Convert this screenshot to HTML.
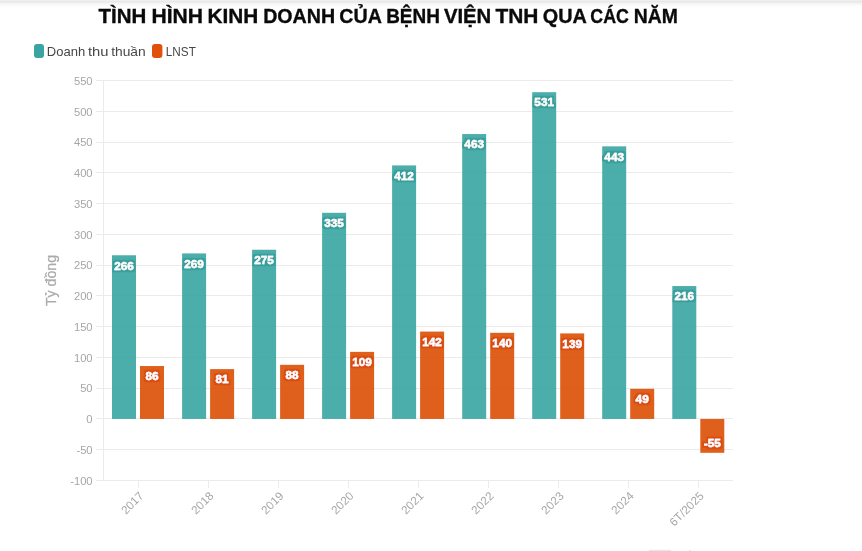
<!DOCTYPE html>
<html lang="vi"><head><meta charset="utf-8"><title>Tình hình kinh doanh của Bệnh viện TNH qua các năm</title>
<style>
html,body{margin:0;padding:0;background:#fff;}
body{width:862px;height:551px;overflow:hidden;position:relative;font-family:"Liberation Sans", sans-serif;}
#shade{position:absolute;left:0;top:0;width:862px;height:8px;background:linear-gradient(to bottom,#f8f8f8 0px,#e7e7e7 1px,#ebebeb 2px,#f1f1f1 3px,#f6f6f6 4px,#fafafa 5px,#fdfdfd 6px,#ffffff 8px);}
svg{position:absolute;left:0;top:0;}
text{font-family:"Liberation Sans", sans-serif;}
.yt{font-size:11.2px;fill:#a6a6a6;text-anchor:end;}
.xt{font-size:11.7px;fill:#a6a6a6;text-anchor:end;}
.lb{font-size:11.2px;font-weight:bold;fill:#fff;text-anchor:middle;stroke:#fff;stroke-width:0.35px;}
.lt{filter:url(#hT);}
.lo{filter:url(#hO);}
.grid line{stroke:#ebebeb;stroke-width:1;shape-rendering:crispEdges;}
.lg{font-size:13.1px;fill:#474747;}
</style></head><body>
<div id="shade"></div>
<svg width="862" height="551" viewBox="0 0 862 551">
<defs>
<filter id="hT" x="-20%" y="-40%" width="140%" height="180%"><feMorphology in="SourceAlpha" operator="dilate" radius="1.7" result="d"/><feGaussianBlur in="d" stdDeviation="0.45" result="b"/><feFlood flood-color="#35a09d"/><feComposite in2="b" operator="in" result="h"/><feMerge><feMergeNode in="h"/><feMergeNode in="SourceGraphic"/></feMerge></filter>
<filter id="hO" x="-20%" y="-40%" width="140%" height="180%"><feMorphology in="SourceAlpha" operator="dilate" radius="1.7" result="d"/><feGaussianBlur in="d" stdDeviation="0.45" result="b"/><feFlood flood-color="#db4e09"/><feComposite in2="b" operator="in" result="h"/><feMerge><feMergeNode in="h"/><feMergeNode in="SourceGraphic"/></feMerge></filter>
</defs>
<text y="22.5" font-size="20.3" font-weight="bold" fill="#0a0a0a" stroke="#0a0a0a" stroke-width="0.35"><tspan x="98.53" textLength="47.74" lengthAdjust="spacingAndGlyphs">TÌNH</tspan> <tspan x="151.40" textLength="51.58" lengthAdjust="spacingAndGlyphs">HÌNH</tspan> <tspan x="207.59" textLength="50.77" lengthAdjust="spacingAndGlyphs">KINH</tspan> <tspan x="263.19" textLength="71.91" lengthAdjust="spacingAndGlyphs">DOANH</tspan> <tspan x="339.32" textLength="41.81" lengthAdjust="spacingAndGlyphs">CỦA</tspan> <tspan x="386.15" textLength="53.67" lengthAdjust="spacingAndGlyphs">BỆNH</tspan> <tspan x="443.88" textLength="47.36" lengthAdjust="spacingAndGlyphs">VIỆN</tspan> <tspan x="495.52" textLength="42.94" lengthAdjust="spacingAndGlyphs">TNH</tspan> <tspan x="542.77" textLength="43.37" lengthAdjust="spacingAndGlyphs">QUA</tspan> <tspan x="590.33" textLength="38.60" lengthAdjust="spacingAndGlyphs">CÁC</tspan> <tspan x="633.77" textLength="44.10" lengthAdjust="spacingAndGlyphs">NĂM</tspan></text>
<rect x="34" y="44" width="10" height="14" rx="3" ry="3" fill="#38a5a2"/>
<text class="lg" y="55.7"><tspan x="46.84" textLength="38.34" lengthAdjust="spacingAndGlyphs">Doanh</tspan> <tspan x="87.91" textLength="20.53" lengthAdjust="spacingAndGlyphs">thu</tspan> <tspan x="111.19" textLength="34.54" lengthAdjust="spacingAndGlyphs">thuần</tspan></text>
<rect x="152" y="44" width="10.4" height="14" rx="3" ry="3" fill="#e0510b"/>
<text class="lg" x="165.83" y="55.7" textLength="29.97" lengthAdjust="spacingAndGlyphs">LNST</text>
<g class="grid">
<line x1="96" x2="733.3" y1="480.5" y2="480.5"/>
<line x1="96" x2="733.3" y1="449.5" y2="449.5"/>
<line x1="96" x2="733.3" y1="418.5" y2="418.5"/>
<line x1="96" x2="733.3" y1="388.5" y2="388.5"/>
<line x1="96" x2="733.3" y1="357.5" y2="357.5"/>
<line x1="96" x2="733.3" y1="326.5" y2="326.5"/>
<line x1="96" x2="733.3" y1="295.5" y2="295.5"/>
<line x1="96" x2="733.3" y1="265.5" y2="265.5"/>
<line x1="96" x2="733.3" y1="234.5" y2="234.5"/>
<line x1="96" x2="733.3" y1="203.5" y2="203.5"/>
<line x1="96" x2="733.3" y1="172.5" y2="172.5"/>
<line x1="96" x2="733.3" y1="142.5" y2="142.5"/>
<line x1="96" x2="733.3" y1="111.5" y2="111.5"/>
<line x1="96" x2="733.3" y1="80.5" y2="80.5"/>
<line class="v" x1="103.5" x2="103.5" y1="80.0" y2="481.0"/>
<line class="v" x1="138.5" x2="138.5" y1="480.5" y2="487.8"/>
<line class="v" x1="208.6" x2="208.6" y1="480.5" y2="487.8"/>
<line class="v" x1="278.6" x2="278.6" y1="480.5" y2="487.8"/>
<line class="v" x1="348.6" x2="348.6" y1="480.5" y2="487.8"/>
<line class="v" x1="418.6" x2="418.6" y1="480.5" y2="487.8"/>
<line class="v" x1="488.7" x2="488.7" y1="480.5" y2="487.8"/>
<line class="v" x1="558.7" x2="558.7" y1="480.5" y2="487.8"/>
<line class="v" x1="628.8" x2="628.8" y1="480.5" y2="487.8"/>
<line class="v" x1="698.8" x2="698.8" y1="480.5" y2="487.8"/>
</g>
<text class="yt" x="92.6" y="485">-100</text>
<text class="yt" x="92.6" y="454">-50</text>
<text class="yt" x="92.6" y="423">0</text>
<text class="yt" x="92.6" y="392">50</text>
<text class="yt" x="92.6" y="362">100</text>
<text class="yt" x="92.6" y="331">150</text>
<text class="yt" x="92.6" y="300">200</text>
<text class="yt" x="92.6" y="269">250</text>
<text class="yt" x="92.6" y="239">300</text>
<text class="yt" x="92.6" y="208">350</text>
<text class="yt" x="92.6" y="177">400</text>
<text class="yt" x="92.6" y="146">450</text>
<text class="yt" x="92.6" y="116">500</text>
<text class="yt" x="92.6" y="85">550</text>
<text transform="translate(55.5,280.5) rotate(-90)" font-size="14.6" fill="#ababab" stroke="#ababab" stroke-width="0.25" text-anchor="middle" textLength="51" lengthAdjust="spacingAndGlyphs">Tỷ đồng</text>
<rect x="112.0" y="255.27" width="24" height="163.69" fill="#38a5a2" fill-opacity="0.9"/>
<rect x="140.0" y="366.04" width="24" height="52.92" fill="#db4e04" fill-opacity="0.9"/>
<rect x="182.1" y="253.42" width="24" height="165.54" fill="#38a5a2" fill-opacity="0.9"/>
<rect x="210.1" y="369.12" width="24" height="49.85" fill="#db4e04" fill-opacity="0.9"/>
<rect x="252.1" y="249.73" width="24" height="169.23" fill="#38a5a2" fill-opacity="0.9"/>
<rect x="280.1" y="364.81" width="24" height="54.15" fill="#db4e04" fill-opacity="0.9"/>
<rect x="322.1" y="212.81" width="24" height="206.15" fill="#38a5a2" fill-opacity="0.9"/>
<rect x="350.1" y="351.88" width="24" height="67.08" fill="#db4e04" fill-opacity="0.9"/>
<rect x="392.1" y="165.42" width="24" height="253.54" fill="#38a5a2" fill-opacity="0.9"/>
<rect x="420.1" y="331.58" width="24" height="87.38" fill="#db4e04" fill-opacity="0.9"/>
<rect x="462.2" y="134.04" width="24" height="284.92" fill="#38a5a2" fill-opacity="0.9"/>
<rect x="490.2" y="332.81" width="24" height="86.15" fill="#db4e04" fill-opacity="0.9"/>
<rect x="532.2" y="92.19" width="24" height="326.77" fill="#38a5a2" fill-opacity="0.9"/>
<rect x="560.2" y="333.42" width="24" height="85.54" fill="#db4e04" fill-opacity="0.9"/>
<rect x="602.2" y="146.35" width="24" height="272.62" fill="#38a5a2" fill-opacity="0.9"/>
<rect x="630.2" y="388.81" width="24" height="30.15" fill="#db4e04" fill-opacity="0.9"/>
<rect x="672.3" y="286.04" width="24" height="132.92" fill="#38a5a2" fill-opacity="0.9"/>
<rect x="700.3" y="418.96" width="24" height="33.85" fill="#db4e04" fill-opacity="0.9"/>
<text class="lb lt" x="124.0" y="269.60" textLength="19.68" lengthAdjust="spacingAndGlyphs">266</text>
<text class="lb lo" x="152.0" y="379.60" textLength="13.12" lengthAdjust="spacingAndGlyphs">86</text>
<text class="lb lt" x="194.1" y="267.60" textLength="19.68" lengthAdjust="spacingAndGlyphs">269</text>
<text class="lb lo" x="222.1" y="382.60" textLength="13.12" lengthAdjust="spacingAndGlyphs">81</text>
<text class="lb lt" x="264.1" y="263.60" textLength="19.68" lengthAdjust="spacingAndGlyphs">275</text>
<text class="lb lo" x="292.1" y="378.60" textLength="13.12" lengthAdjust="spacingAndGlyphs">88</text>
<text class="lb lt" x="334.1" y="226.60" textLength="19.68" lengthAdjust="spacingAndGlyphs">335</text>
<text class="lb lo" x="362.1" y="365.60" textLength="19.68" lengthAdjust="spacingAndGlyphs">109</text>
<text class="lb lt" x="404.1" y="179.60" textLength="19.68" lengthAdjust="spacingAndGlyphs">412</text>
<text class="lb lo" x="432.1" y="345.60" textLength="19.68" lengthAdjust="spacingAndGlyphs">142</text>
<text class="lb lt" x="474.2" y="147.60" textLength="19.68" lengthAdjust="spacingAndGlyphs">463</text>
<text class="lb lo" x="502.2" y="346.60" textLength="19.68" lengthAdjust="spacingAndGlyphs">140</text>
<text class="lb lt" x="544.2" y="105.60" textLength="19.68" lengthAdjust="spacingAndGlyphs">531</text>
<text class="lb lo" x="572.2" y="347.60" textLength="19.68" lengthAdjust="spacingAndGlyphs">139</text>
<text class="lb lt" x="614.2" y="160.60" textLength="19.68" lengthAdjust="spacingAndGlyphs">443</text>
<text class="lb lo" x="642.2" y="402.60" textLength="13.12" lengthAdjust="spacingAndGlyphs">49</text>
<text class="lb lt" x="684.3" y="299.60" textLength="19.68" lengthAdjust="spacingAndGlyphs">216</text>
<text class="lb lo" x="712.3" y="447.10" textLength="17.05" lengthAdjust="spacingAndGlyphs">-55</text>
<text class="xt" transform="translate(144.3,496.6) rotate(-45)">2017</text>
<text class="xt" transform="translate(214.4,496.6) rotate(-45)">2018</text>
<text class="xt" transform="translate(284.4,496.6) rotate(-45)">2019</text>
<text class="xt" transform="translate(354.4,496.6) rotate(-45)">2020</text>
<text class="xt" transform="translate(424.4,496.6) rotate(-45)">2021</text>
<text class="xt" transform="translate(494.5,496.6) rotate(-45)">2022</text>
<text class="xt" transform="translate(564.5,496.6) rotate(-45)">2023</text>
<text class="xt" transform="translate(634.5,496.6) rotate(-45)">2024</text>
<text class="xt" transform="translate(704.6,496.6) rotate(-45)">6T/2025</text>
<rect x="649" y="549.8" width="22" height="1.2" fill="#e6e6e6"/><rect x="689" y="550.3" width="2" height="0.7" fill="#e0e0e0"/>
</svg>
</body></html>
